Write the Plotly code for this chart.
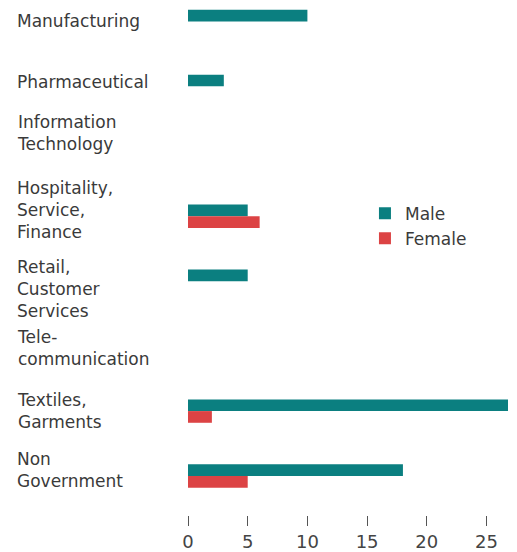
import plotly.graph_objects as go

categories = ["Manufacturing", "Pharmaceutical", "Information<br>Technology",
              "Hospitality,<br>Service,<br>Finance", "Retail,<br>Customer<br>Services",
              "Tele-<br>communication", "Textiles,<br>Garments", "Non<br>Government"]
male = [10, 3, 0, 5, 5, 0, 28, 18]
female = [0, 0, 0, 6, 0, 0, 2, 5]
x_ticks = [0, 5, 10, 15, 20, 25]

TEAL = "#0b7f80"
RED = "#dc4344"
FONT = "DejaVu Sans"
# small vertical nudges (px) so the multi-line labels do not collide
label_nudge = [0, 4, 18, 6, -8, -2, 0, 6]

fig = go.Figure()
fig.add_trace(go.Bar(y=categories, x=male, orientation="h", name="Male",
                     marker=dict(color=TEAL, line=dict(width=0))))
fig.add_trace(go.Bar(y=categories, x=female, orientation="h", name="Female",
                     marker=dict(color=RED, line=dict(width=0))))

for c, dy in zip(categories, label_nudge):
    fig.add_annotation(x=-0.54, xref="paper", y=c, yref="y", text=c,
                       xanchor="left", yanchor="middle", align="left", yshift=dy,
                       showarrow=False, font=dict(family=FONT, size=17, color="#3a3a3a"))

fig.update_layout(
    width=517, height=552,
    margin=dict(l=188, r=9, t=0, b=29),
    paper_bgcolor="white", plot_bgcolor="white",
    barmode="group", bargap=0.64, bargroupgap=0,
    showlegend=True,
    legend=dict(x=0.553, y=0.62, xanchor="left", yanchor="top",
                font=dict(family=FONT, size=17, color="#3a3a3a"),
                bgcolor="rgba(0,0,0,0)", tracegroupgap=0, itemwidth=30),
    xaxis=dict(range=[0, 26.8], tickvals=x_ticks, ticktext=[str(v) for v in x_ticks],
               showgrid=False, zeroline=False, showline=False,
               ticks="outside", ticklen=10, tickwidth=1, tickcolor="#555",
               tickfont=dict(family=FONT, size=18, color="#444")),
    yaxis=dict(range=[7.6, -0.33], showticklabels=False, showgrid=False,
               zeroline=False, showline=False, ticks=""),
)

fig.write_html("out.html")
